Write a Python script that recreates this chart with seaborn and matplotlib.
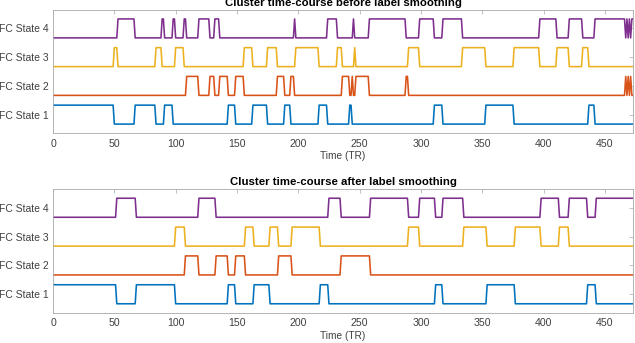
import numpy as np
import pandas as pd
import matplotlib
matplotlib.use('Agg')
import matplotlib.pyplot as plt
import seaborn as sns

# state sequence as runs: start TR of each run and the state it switches to
n_tr = 473
before_starts = [0, 50, 53, 67, 84, 89, 91, 98, 100, 107, 109, 119, 128, 132, 136,
                 143, 149, 156, 163, 175, 183, 189, 194, 197, 198, 217, 224, 232,
                 236, 242, 244, 245, 246, 247, 258, 288, 290, 299, 311, 318, 334,
                 353, 376, 397, 411, 421, 432, 437, 442, 467, 468, 469, 470, 471, 472]
before_states = [1, 3, 4, 1, 3, 4, 1, 4, 3, 4, 2, 4, 2, 4, 2,
                 1, 2, 3, 1, 3, 2, 1, 2, 4, 3, 1, 4, 3,
                 2, 1, 2, 4, 3, 2, 4, 2, 3, 4, 1, 4, 3,
                 1, 3, 4, 3, 4, 3, 1, 4, 2, 4, 2, 4, 2, 4]
after_starts = [0, 52, 68, 100, 108, 119, 133, 143, 149, 157, 164, 177, 184, 195,
                218, 225, 235, 259, 290, 299, 312, 318, 335, 354, 377, 398, 413,
                421, 436, 443]
after_states = [1, 4, 1, 3, 2, 4, 2, 1, 2, 3, 1, 3, 2, 3,
                1, 4, 2, 4, 3, 4, 1, 4, 3, 1, 3, 4, 3,
                4, 1, 4]

state_names = ['FC State 1', 'FC State 2', 'FC State 3', 'FC State 4']
colors = ['#0072BD', '#D95319', '#EDB120', '#7E2F8E']
titles = ['Cluster time-course before label smoothing',
          'Cluster time-course after label smoothing']


def expand(starts, states):
    t = np.arange(n_tr + 1)
    idx = np.searchsorted(starts, t, side='right') - 1
    return t, np.array(states)[idx]


def long_frame(starts, states):
    t, lab = expand(starts, states)
    rows = []
    for k in range(1, 5):
        y = k - 0.33 + 0.66 * (lab == k)
        rows.append(pd.DataFrame({'t': t, 'y': y, 'state': k}))
    return pd.concat(rows, ignore_index=True)


sns.set_style('white')
plt.rcParams['font.family'] = ['Liberation Sans', 'DejaVu Sans']

fig = plt.figure(figsize=(6.35, 3.43), dpi=100)
ax_top = fig.add_axes([0.0835, 0.6122, 0.9135, 0.3586])
ax_bot = fig.add_axes([0.0835, 0.0883, 0.9135, 0.3598])

for ax, (starts, states), title in zip(
        [ax_top, ax_bot],
        [(before_starts, before_states), (after_starts, after_states)],
        titles):
    df = long_frame(starts, states)
    sns.lineplot(data=df, x='t', y='y', hue='state', palette=colors,
                 estimator=None, linewidth=1.15, legend=False, ax=ax)
    ax.set_xlim(0, n_tr)
    ax.set_ylim(0.36, 4.64)
    ax.set_xticks(np.arange(0, 451, 50))
    ax.set_yticks([1, 2, 3, 4])
    ax.set_yticklabels(state_names)
    ax.set_xlabel('Time (TR)', fontsize=7.3, color='#404040', labelpad=2)
    ax.set_ylabel('')
    ax.set_title(title, fontsize=8.2, fontweight='bold', color='black', pad=3)
    ax.tick_params(axis='y', labelsize=7.5, pad=3)
    ax.tick_params(axis='x', labelsize=7.6, pad=4)
    ax.tick_params(direction='in', top=True, right=True, length=3, width=0.5,
                   colors='#404040', color='#a8a8a8')
    for s in ax.spines.values():
        s.set_color('#a8a8a8')
        s.set_linewidth(0.6)

fig.savefig('out.png', dpi=100)
